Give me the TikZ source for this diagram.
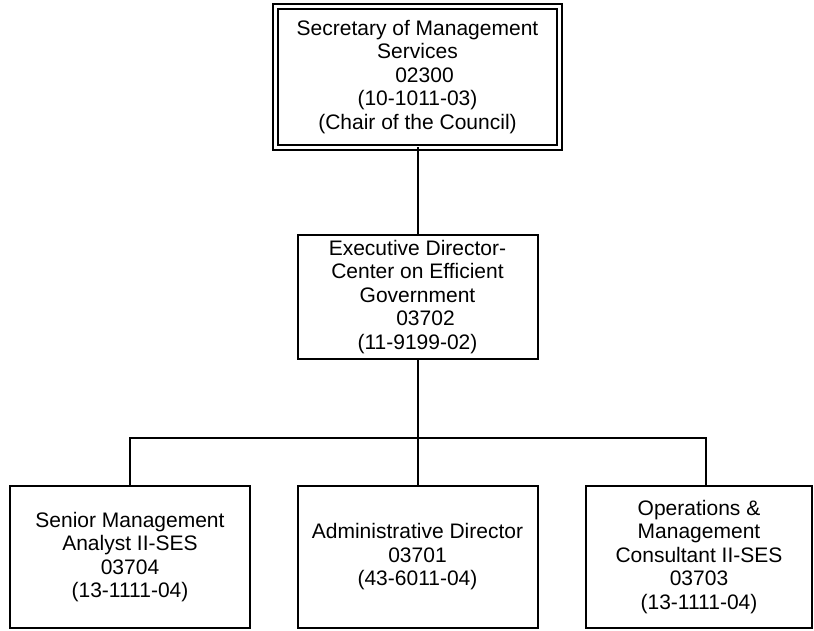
\documentclass[tikz,border=0pt]{standalone}
\usepackage{fontspec}
\setmainfont{Liberation Sans}
\begin{document}
\begin{tikzpicture}[x=1pt, y=-1pt,
  orgbox/.style={draw, line width=2pt, align=center, inner sep=0pt, outer sep=0pt,
    font=\fontsize{21}{23.5}\selectfont},
  chairbox/.style={orgbox, double, line width=1.3pt, double distance=3.7pt},
  link/.style={line width=2pt}]
\useasboundingbox[fill=white] (0,0) rectangle (814,631);

% chair of the council
\node[chairbox, minimum width=284pt, minimum height=141pt] (sec) at (417.5,77)
  {Secretary of Management\\Services\\\hspace*{14pt}02300\\(10-1011-03)\\(Chair of the Council)};

% executive director
\node[orgbox, minimum width=240pt, minimum height=124pt] (exec) at (417.5,297)
  {Executive Director-\\Center on Efficient\\Government\\\hspace*{16pt}03702\\(11-9199-02)};

% staff positions
\node[orgbox, minimum width=240pt, minimum height=142pt] (sma) at (130,557)
  {Senior Management\\Analyst II-SES\\03704\\(13-1111-04)};
\node[orgbox, minimum width=240pt, minimum height=142pt] (adm) at (417.5,557)
  {Administrative Director\\03701\\(43-6011-04)};
\node[orgbox, minimum width=226pt, minimum height=142pt] (omc) at (699,557)
  {Operations \&\\Management\\Consultant II-SES\\03703\\(13-1111-04)};

% reporting lines
\coordinate (hub) at (417.5,438);
\coordinate (omcdrop) at (706,486);
\draw[link] (sec.south) -- (exec.north);
\draw[link] (exec.south) -- (adm.north);
\draw[link] (sma.north) -- (sma.north |- hub) -- (omcdrop |- hub) -- (omcdrop);
\end{tikzpicture}
\end{document}
